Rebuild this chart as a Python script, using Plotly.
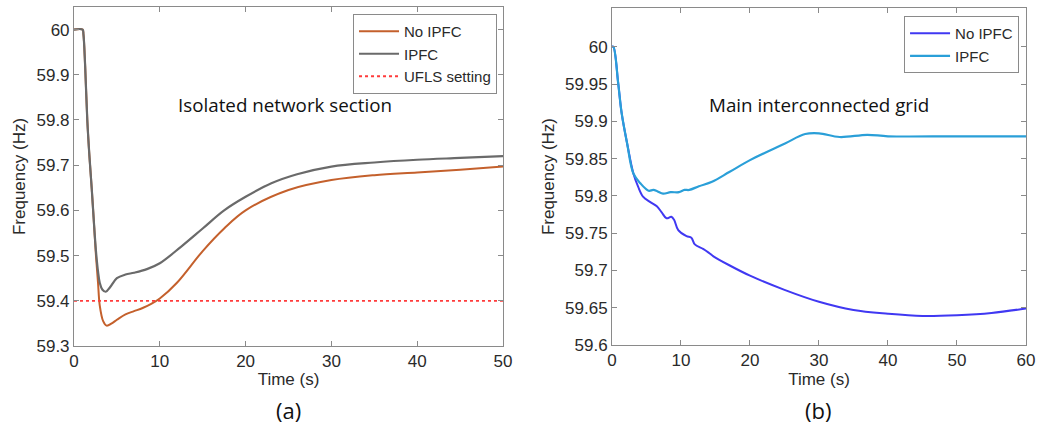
import plotly.graph_objects as go

# (a) isolated network section
t_a = [0, 1.0, 1.1, 1.3, 1.55, 1.8, 2.06, 2.3, 2.56, 2.8, 3.0, 3.3, 3.7, 4.2, 5.0, 6.0, 7.0, 8.5,
       10, 12.5, 15, 17.5, 20, 23, 26, 30, 35, 40, 45, 50]
ipfc_a = [60, 60, 59.99, 59.92, 59.80, 59.72, 59.65, 59.58, 59.51, 59.465, 59.44, 59.425, 59.42,
          59.43, 59.45, 59.458, 59.462, 59.47, 59.483, 59.52, 59.56, 59.60, 59.63, 59.66,
          59.68, 59.697, 59.706, 59.712, 59.716, 59.72]
t_a2 = [0, 1.0, 1.1, 1.3, 1.55, 1.8, 2.06, 2.3, 2.56, 2.8, 3.0, 3.4, 3.8, 4.4, 5.0, 6.0, 7.0, 8.0,
        9.0, 10, 12, 15, 17.5, 20, 25, 30, 35, 40, 45, 50]
no_ipfc_a = [60, 60, 59.99, 59.92, 59.80, 59.72, 59.65, 59.58, 59.50, 59.44, 59.39, 59.355, 59.345,
             59.35, 59.358, 59.37, 59.377, 59.384, 59.393, 59.405, 59.44, 59.51, 59.56, 59.60,
             59.645, 59.667, 59.678, 59.684, 59.69, 59.697]
ufls_t = [0, 50]
ufls_f = [59.4, 59.4]

# (b) main interconnected grid
t_b = [0, 0.2, 0.9, 1.4, 2.2, 3.1, 4.1, 5.3, 6.0, 6.6, 7.4, 8.5, 9.7, 10.5, 11.2, 12.6, 14.5, 17,
       20, 25, 28, 30, 33, 37, 40, 50, 60]
ipfc_b = [60, 60, 59.951, 59.911, 59.87, 59.83, 59.817, 59.807, 59.808, 59.806, 59.803, 59.805,
          59.805, 59.808, 59.808, 59.813, 59.819, 59.832, 59.848, 59.870, 59.883, 59.884, 59.879,
          59.882, 59.880, 59.880, 59.880]
t_b2 = [0, 0.2, 0.9, 1.4, 2.2, 3.1, 3.8, 4.5, 5.5, 6.5, 7.2, 7.9, 8.6, 9.0, 9.6, 10.8, 11.5, 12.0,
        13.2, 14.0, 14.7, 17, 20, 25, 30, 35, 40, 45, 50, 55, 60]
no_ipfc_b = [60, 60, 59.951, 59.911, 59.87, 59.83, 59.812, 59.799, 59.792, 59.786, 59.778, 59.770,
             59.772, 59.768, 59.754, 59.746, 59.744, 59.735, 59.729, 59.724, 59.719, 59.707,
             59.693, 59.674, 59.658, 59.647, 59.642, 59.639, 59.640, 59.643, 59.649]

yticks_a = [59.3, 59.4, 59.5, 59.6, 59.7, 59.8, 59.9, 60]
ylabels_a = ["59.3", "59.4", "59.5", "59.6", "59.7", "59.8", "59.9", "60"]
yticks_b = [59.6, 59.65, 59.7, 59.75, 59.8, 59.85, 59.9, 59.95, 60]
ylabels_b = ["59.6", "59.65", "59.7", "59.75", "59.8", "59.85", "59.9", "59.95", "60"]
xticks_a = [0, 10, 20, 30, 40, 50]
xticks_b = [0, 10, 20, 30, 40, 50, 60]

ORANGE = "#c4602c"
GRAY = "#6a6a6a"
RED = "#ff3b3b"
BLUE = "#4038f2"
LIGHTBLUE = "#2a9fd8"
AX = "#8a8a8a"
TXT = "#2a2a2a"
FONT = "Liberation Sans, Arial, sans-serif"

fig = go.Figure()
fig.add_scatter(x=t_a2, y=no_ipfc_a, name="No IPFC", mode="lines", line=dict(color=ORANGE, width=2, shape="spline"),
                xaxis="x", yaxis="y", legend="legend")
fig.add_scatter(x=t_a, y=ipfc_a, name="IPFC", mode="lines", line=dict(color=GRAY, width=2.2, shape="spline"),
                xaxis="x", yaxis="y", legend="legend")
fig.add_scatter(x=ufls_t, y=ufls_f, name="UFLS setting", mode="lines", line=dict(color=RED, width=1.8, dash="dot"),
                xaxis="x", yaxis="y", legend="legend")
fig.add_scatter(x=t_b2, y=no_ipfc_b, name="No IPFC", mode="lines", line=dict(color=BLUE, width=2, shape="spline"),
                xaxis="x2", yaxis="y2", legend="legend2")
fig.add_scatter(x=t_b, y=ipfc_b, name="IPFC", mode="lines", line=dict(color=LIGHTBLUE, width=2.2, shape="spline"),
                xaxis="x2", yaxis="y2", legend="legend2")

axis_style = dict(showline=True, linecolor=AX, linewidth=1, mirror="ticks", ticks="inside", ticklen=5,
                  tickcolor=AX, showgrid=False, zeroline=False, automargin=False,
                  tickfont=dict(family=FONT, size=17, color=TXT),
                  title_font=dict(family=FONT, size=17, color=TXT))

note = dict(xref="paper", yref="paper", xanchor="center", yanchor="middle", showarrow=False)
leg = dict(xanchor="right", yanchor="top", bgcolor="white", bordercolor=AX, borderwidth=1,
           font=dict(family=FONT, size=15, color=TXT), tracegroupgap=0, itemwidth=40)

fig.update_layout(
    width=1051, height=424, margin=dict(l=0, r=0, t=0, b=0),
    paper_bgcolor="white", plot_bgcolor="white", showlegend=True,
    xaxis=dict(domain=[0.0704, 0.4786], range=[0, 50], tickvals=xticks_a, anchor="y",
               title=dict(text="Time (s)", standoff=2), **axis_style),
    yaxis=dict(domain=[0.184, 0.9835], range=[59.3, 60.05], tickvals=yticks_a, ticktext=ylabels_a, anchor="x",
               title=dict(text="Frequency (Hz)", standoff=6), **axis_style),
    xaxis2=dict(domain=[0.5823, 0.9762], range=[0, 60], tickvals=xticks_b, anchor="y2",
                title=dict(text="Time (s)", standoff=2), **axis_style),
    yaxis2=dict(domain=[0.1863, 0.981], range=[59.6, 60.052], tickvals=yticks_b, ticktext=ylabels_b, anchor="x2",
                title=dict(text="Frequency (Hz)", standoff=6), **axis_style),
    legend=dict(x=0.4729, y=0.967, **leg),
    legend2=dict(x=0.9696, y=0.962, **leg),
    annotations=[
        dict(text="Isolated network section", x=285 / 1051, y=1 - 105 / 424,
             font=dict(family="Open Sans", size=18.8, color="#111"), **note),
        dict(text="Main interconnected grid", x=819 / 1051, y=1 - 105 / 424,
             font=dict(family="Open Sans", size=18.8, color="#111"), **note),
        dict(text="(a)", x=288 / 1051, y=1 - 410 / 424,
             font=dict(family="Open Sans", size=22, color="#111"), **note),
        dict(text="(b)", x=818 / 1051, y=1 - 410 / 424,
             font=dict(family="Open Sans", size=22, color="#111"), **note),
    ],
)

# drop the browser's default page margin so the figure sits at the window corner
fig.write_html("out.html", config={"displayModeBar": False},
               post_script="document.body.style.margin='0';")
